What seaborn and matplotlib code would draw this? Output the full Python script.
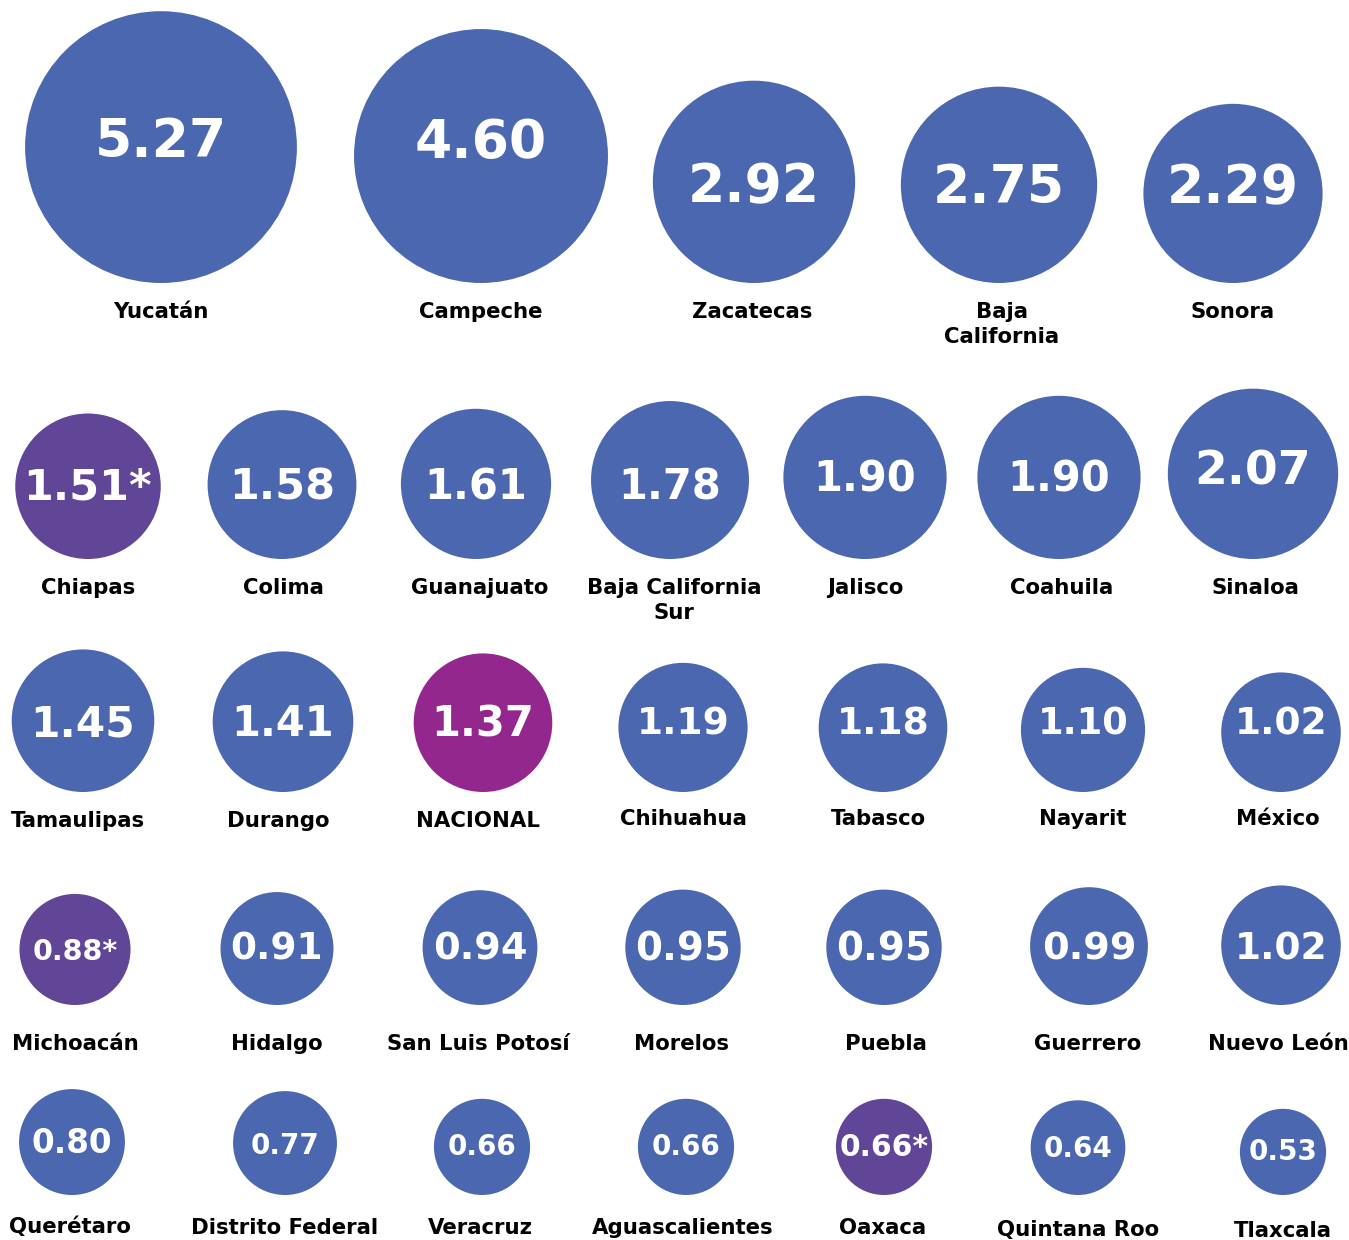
import numpy as np
import pandas as pd
import matplotlib
matplotlib.use("Agg")
import matplotlib.pyplot as plt
import seaborn as sns

# ---------------- data ----------------
estados = [
    "Yucatán", "Campeche", "Zacatecas", "Baja\nCalifornia", "Sonora",
    "Chiapas", "Colima", "Guanajuato", "Baja California\nSur", "Jalisco", "Coahuila", "Sinaloa",
    "Tamaulipas", "Durango", "NACIONAL", "Chihuahua", "Tabasco", "Nayarit", "México",
    "Michoacán", "Hidalgo", "San Luis Potosí", "Morelos", "Puebla", "Guerrero", "Nuevo León",
    "Querétaro", "Distrito Federal", "Veracruz", "Aguascalientes", "Oaxaca", "Quintana Roo", "Tlaxcala",
]
valores = [
    5.27, 4.60, 2.92, 2.75, 2.29,
    1.51, 1.58, 1.61, 1.78, 1.90, 1.90, 2.07,
    1.45, 1.41, 1.37, 1.19, 1.18, 1.10, 1.02,
    0.88, 0.91, 0.94, 0.95, 0.95, 0.99, 1.02,
    0.80, 0.77, 0.66, 0.66, 0.66, 0.64, 0.53,
]
# "*" marks estados flagged in the source; "N" marks the national value
marca = [
    "", "", "", "", "",
    "*", "", "", "", "", "", "",
    "", "", "N", "", "", "", "",
    "*", "", "", "", "", "", "",
    "", "", "", "", "*", "", "",
]

# ---------------- layout (pixels) ----------------
W, H = 1349, 1240
fila = [0]*5 + [1]*7 + [2]*7 + [3]*7 + [4]*7
col_x = [
    161, 481, 754, 999, 1233,
    88, 282, 476, 670, 865, 1059, 1253,
    83, 283, 483, 683, 883, 1083, 1281,
    75, 277, 480, 683, 884, 1089, 1281,
    72, 285, 482, 686, 884, 1078, 1283,
]
base_fila = [283, 559, 792, 1005, 1195]      # circles sit on a common bottom line
etiqueta_fila = [310, 586, 819, 1042, 1226]   # y of the label (cap centre, first line)
texto_y = [
    138, 139, 183, 184, 184,
    484, 484, 484, 484, 476, 476, 467,
    721, 721, 721, 721, 721, 721, 721,
    950, 946, 946, 946, 946, 946, 946,
    1141, 1144, 1145, 1145, 1145, 1147, 1150,
]
texto_fs = [
    38.5, 38.5, 38.5, 38.5, 38.5,
    31, 31, 30, 30, 30, 30, 34,
    30.5, 30, 30, 27, 27, 26.5, 27,
    20.5, 27, 27.5, 28, 28, 27.5, 27,
    23.5, 20, 20, 20, 21.5, 20, 20,
]
etiqueta_dx = [
    0, 0, -2, 3, 0,
    0, 1, 4, 4, 0, 3, 2,
    -5, -5, -5, 0, -5, 0, -3,
    0, 0, -2, -2, 2, -1, -3,
    -2, 0, -2, -3, -1, 0, 0,
]
etiqueta_dy = [0]*15 + [-2, -2, -2, -2] + [0]*7 + [-1, 0, 0, 0, 0, 2, 3]
interlinea = 25

K = 59.2  # radius in px = K * sqrt(value)  (area proportional to value)
radio = [K*np.sqrt(v) for v in valores]
cy = [base_fila[f] - r for f, r in zip(fila, radio)]

grupo = ["nacional" if m == "N" else ("asterisco" if m == "*" else "estado") for m in marca]
df = pd.DataFrame({"x": col_x, "y": cy, "valor": valores, "grupo": grupo})

paleta = {"estado": "#4A67B0", "asterisco": "#614597", "nacional": "#93278E"}

DPI = 100
fig = plt.figure(figsize=(W/DPI, H/DPI), dpi=DPI)
ax = fig.add_axes([0, 0, 1, 1])

# marker area (pt^2) proportional to value
px2pt = 72.0/DPI
vmax = max(valores)
smax = (2*K*np.sqrt(vmax)*px2pt)**2
sns.scatterplot(data=df, x="x", y="y", hue="grupo", palette=paleta,
                size="valor", sizes=(0, smax), size_norm=(0, vmax),
                linewidth=0, edgecolor="none", legend=False, ax=ax, zorder=2)
ax.set_xlim(0, W)
ax.set_ylim(H, 0)
ax.axis("off")

pt2px = DPI/72.0
lab_fs = 15.3
cap_l = 0.729*lab_fs*pt2px
for i, v in enumerate(valores):
    txt = f"{v:.2f}" + ("*" if marca[i] == "*" else "")
    fs = texto_fs[i]
    cap = 0.729*fs*pt2px
    ax.text(col_x[i], texto_y[i] + cap/2, txt, color="white", fontsize=fs,
            fontweight="bold", ha="center", va="baseline", zorder=3,
            family="DejaVu Sans")
    # label, one text per line
    y0 = etiqueta_fila[fila[i]] + etiqueta_dy[i] + cap_l/2
    for k, linea in enumerate(estados[i].split("\n")):
        ax.text(col_x[i] + etiqueta_dx[i], y0 + k*interlinea, linea,
                color="black", fontsize=lab_fs, fontweight="bold",
                ha="center", va="baseline", zorder=3, family="DejaVu Sans")

fig.savefig("out.png", dpi=DPI, facecolor="white")
